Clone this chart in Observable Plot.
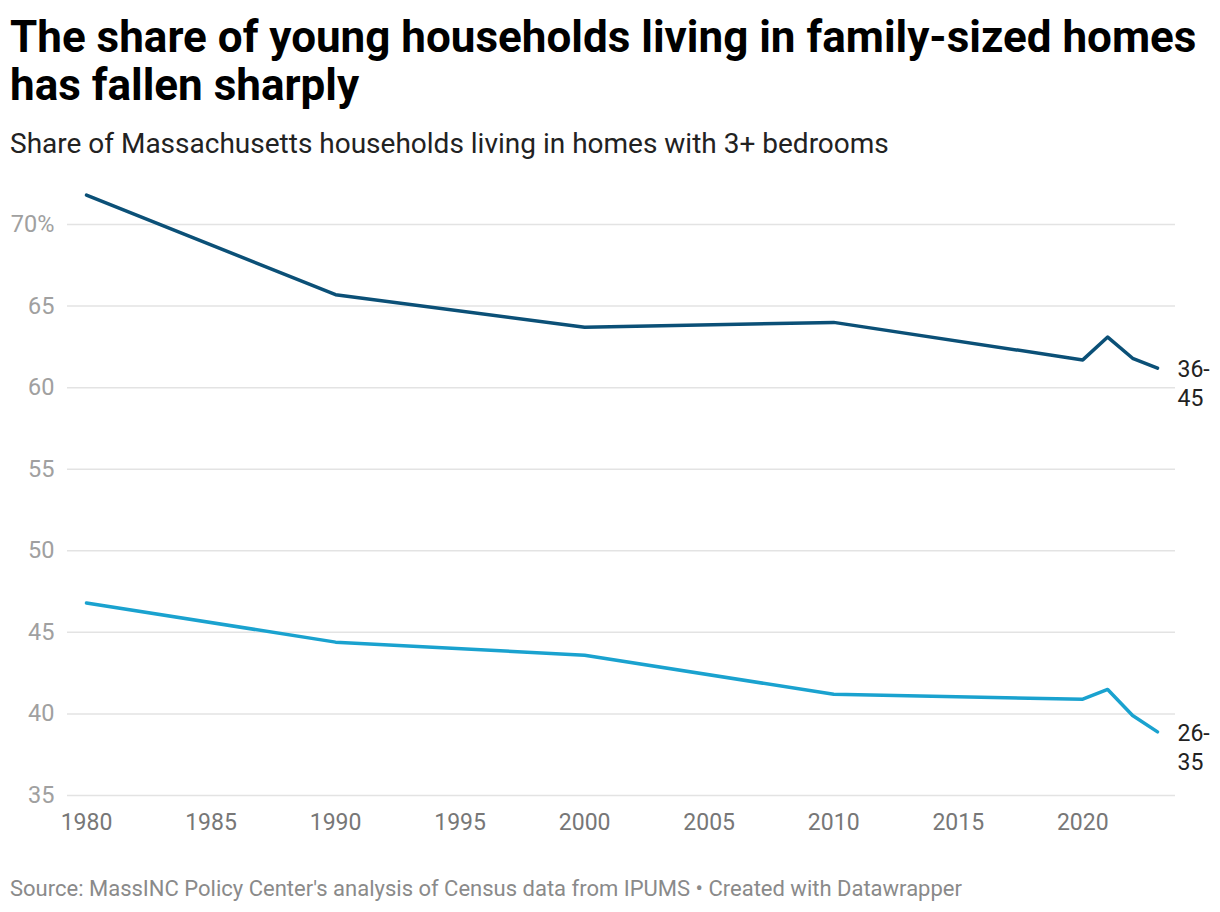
<!DOCTYPE html>
<html><head><meta charset="utf-8">
<script src="https://cdn.jsdelivr.net/npm/d3@7"></script>
<script src="https://cdn.jsdelivr.net/npm/@observablehq/plot@0.6"></script>
<style>
body{margin:0;background:#fff;font-family:Roboto, sans-serif;width:1220px;height:912px;position:relative;overflow:hidden}
#title{position:absolute;left:10px;top:13px;font-size:44px;font-weight:700;line-height:48px;color:#000;width:1210px}
#subtitle{position:absolute;left:10px;top:128px;font-size:28px;line-height:32px;color:#222}
#chart{position:absolute;left:0;top:170px}
#source{position:absolute;left:10px;top:876px;font-size:22px;line-height:26px;color:#8a8a8a}
</style></head><body>
<div id="title">The share of young households living in family-sized homes has fallen sharply</div>
<div id="subtitle">Share of Massachusetts households living in homes with 3+ bedrooms</div>
<div id="chart"></div>
<div id="source">Source: MassINC Policy Center's analysis of Census data from IPUMS • Created with Datawrapper</div>
<script>
const years = [1980, 1990, 2000, 2010, 2020, 2021, 2022, 2023];
const share36to45 = [71.8, 65.7, 63.7, 64.0, 61.7, 63.1, 61.8, 61.2];
const share26to35 = [46.8, 44.4, 43.6, 41.2, 40.9, 41.5, 39.9, 38.9];
const seriesNames = ["36-45", "26-35"];
const seriesLabels = ["36-\n45", "26-\n35"];
const seriesColors = ["#0b5077", "#1aa2cf"];
const yTicks = [35, 40, 45, 50, 55, 60, 65, 70];
const xTicks = [1980, 1985, 1990, 1995, 2000, 2005, 2010, 2015, 2020];

const data = [];
[share36to45, share26to35].forEach((vals, i) => {
  years.forEach((yr, j) => data.push({series: seriesNames[i], label: seriesLabels[i], year: yr, value: vals[j]}));
});

const chart = Plot.plot({
  width: 1220,
  height: 690,
  marginLeft: 67,
  marginRight: 45,
  marginTop: 54,
  marginBottom: 65,
  style: {fontFamily: "Roboto, sans-serif", fontSize: "23px", background: "transparent"},
  x: {type: "linear", domain: [1980, 2023], insetLeft: 19, insetRight: 18},
  y: {domain: [35, 70]},
  color: {domain: seriesNames, range: seriesColors},
  marks: [
    Plot.ruleY(yTicks, {stroke: "#e3e3e3", strokeWidth: 1.5}),
    Plot.axisY({ticks: yTicks, tickSize: 0, tickPadding: 13, tickFormat: d => d === 70 ? "70%" : String(d), color: "#a0a0a0", label: null, fontSize: 23.5}),
    Plot.axisX({ticks: xTicks, tickSize: 0, tickPadding: 18, tickFormat: d => String(d), color: "#777", label: null, fontSize: 23}),
    Plot.line(data, {x: "year", y: "value", z: "series", stroke: "series", strokeWidth: 3.5}),
    Plot.text(data, Plot.selectLast({x: "year", y: "value", z: "series", text: "label", dx: 20, dy: -11, textAnchor: "start", lineAnchor: "top", lineHeight: 1.25, fontSize: 23, fill: "#222"}))
  ]
});
document.getElementById("chart").appendChild(chart);
</script>
</body></html>
